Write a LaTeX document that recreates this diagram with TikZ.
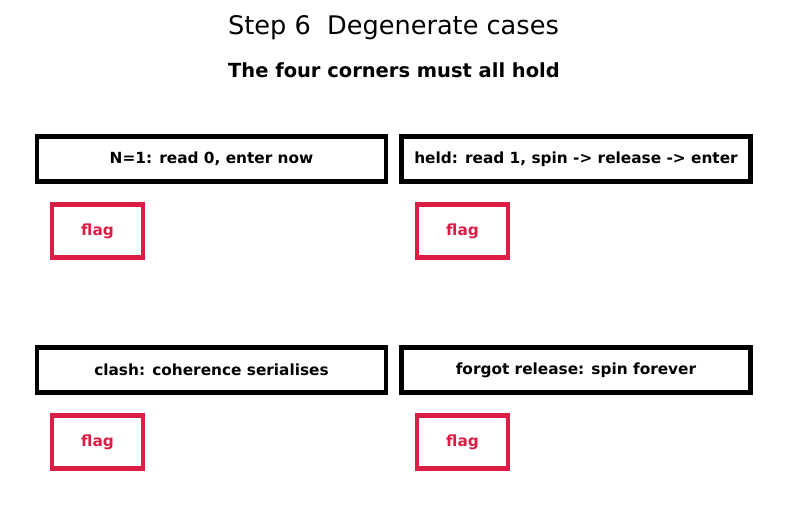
\documentclass[tikz,border=0pt]{standalone}
\usepackage{fontspec}
\setmainfont{DejaVu Sans}
\definecolor{flagred}{RGB}{220,30,70}
\begin{document}
\begin{tikzpicture}[x=0.75pt,y=-0.75pt,
  casebox/.style={draw=black,line width=3.6pt,minimum width=349*0.75pt,minimum height=45*0.75pt,inner sep=0pt,font=\bfseries\fontsize{11.5}{13}\selectfont},
  flagbox/.style={draw=flagred,line width=3.2pt,minimum width=91*0.75pt,minimum height=53*0.75pt,inner sep=0pt,text=flagred,font=\bfseries\fontsize{11.5}{13}\selectfont}]
\useasboundingbox (0,0) rectangle (787,512);
\node (title) at (393.5,28) {\fontsize{19.2}{22}\selectfont Step 6\ \ Degenerate cases};
\node (sub) at (394,70) {\bfseries\fontsize{14.6}{17}\selectfont The four corners must all hold};
\node[casebox] (c1) at (211.5,159) {N=1: read 0, enter now};
\node[casebox] (c2) at (576,159) {held: read 1, spin -> release -> enter};
\node[casebox] (c3) at (211.5,370) {clash: coherence serialises};
\node[casebox] (c4) at (576,370) {forgot release: spin forever};
\node[flagbox] (f1) at (97.5,231) {flag};
\node[flagbox] (f2) at (462.5,231) {flag};
\node[flagbox] (f3) at (97.5,442) {flag};
\node[flagbox] (f4) at (462.5,442) {flag};
\end{tikzpicture}
\end{document}
